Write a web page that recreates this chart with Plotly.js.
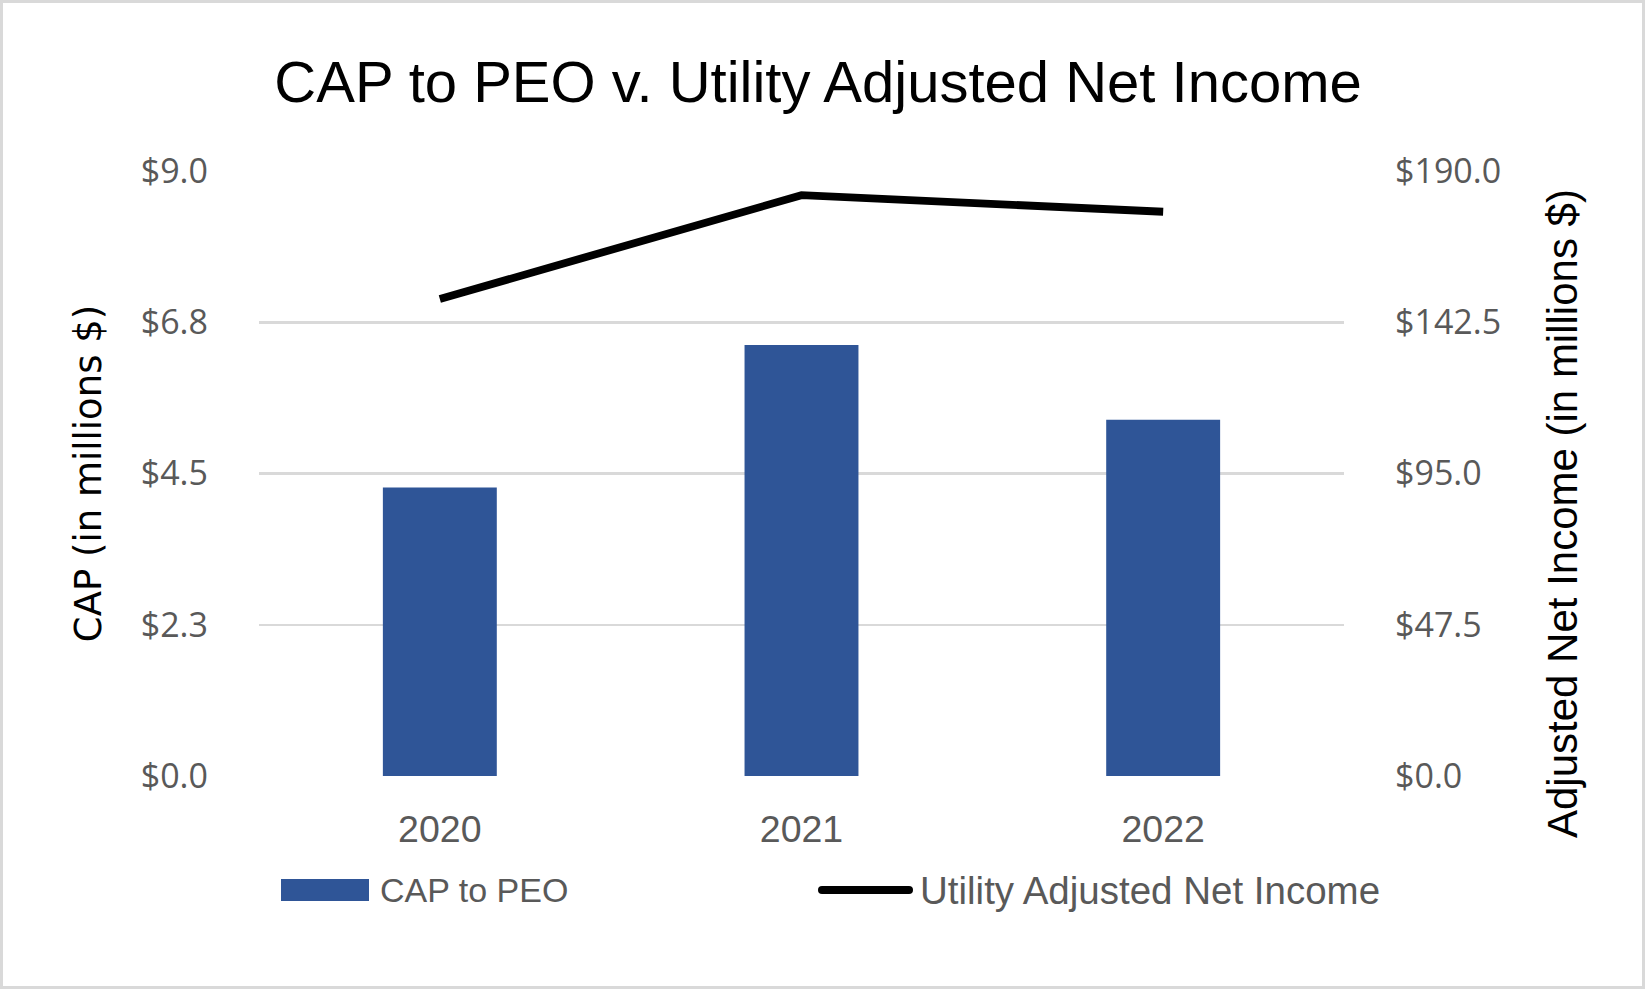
<!DOCTYPE html>
<html>
<head>
<meta charset="utf-8">
<script src="https://cdn.plot.ly/plotly-3.0.1.min.js"></script>
<style>
  html, body { margin: 0; padding: 0; background: #ffffff; overflow: hidden; }
  #wrap { position: relative; width: 1645px; height: 989px; }
  #chart { position: absolute; left: 0; top: 0; width: 1645px; height: 989px; }
  #frame { position: absolute; left: 0; top: 0; width: 1645px; height: 989px; box-sizing: border-box;
           border: 3px solid #d9d9d9; pointer-events: none; }
</style>
</head>
<body>
<div id="wrap">
  <div id="chart"></div>
  <div id="frame"></div>
</div>
<script>
// ---- data ----
const years = ['2020', '2021', '2022'];
const capToPeo = [4.29, 6.41, 5.30];            // CAP to PEO, $ millions
const adjNetIncome = [149.8, 182.4, 177.2];     // Utility Adjusted Net Income, $ millions

const leftTickVals = [0, 2.25, 4.5, 6.75, 9];
const leftTickText = ['$0.0', '$2.3', '$4.5', '$6.8', '$9.0'];
const rightTickVals = [0, 47.5, 95, 142.5, 190];
const rightTickText = ['$0.0', '$47.5', '$95.0', '$142.5', '$190.0'];

const seriesNames = ['CAP to PEO', 'Utility Adjusted Net Income'];
const titleText = 'CAP to PEO v. Utility Adjusted Net Income';
const leftAxisTitle = 'CAP (in millions $)';
const rightAxisTitle = 'Adjusted Net Income (in millions $)';

// ---- styles / geometry ----
const BLUE = '#2F5597';
const SANS = '"Liberation Sans", Arial, sans-serif';
const TICKFONT = { family: '"Open Sans", "Noto Sans", sans-serif', size: 34, color: '#595959' };
const PL = 259, PR = 1344, PT = 171, PB = 776;          // plot area in px
const PW = PR - PL, PH = PB - PT;
const px = v => (v - PL) / PW;                           // px -> paper x
const py = v => (PB - v) / PH;                           // px -> paper y

const traces = [
  {
    type: 'bar', name: seriesNames[0], x: years, y: capToPeo,
    marker: { color: BLUE }, width: 0.315, yaxis: 'y', showlegend: false
  },
  {
    type: 'scatter', mode: 'lines', name: seriesNames[1], x: years, y: adjNetIncome,
    line: { color: '#000000', width: 7.8 }, yaxis: 'y2', showlegend: false
  }
];

// legend built to match the reference (wide swatch + thick line)
const LEG_Y = 890;
const shapes = [
  { type: 'rect', xref: 'paper', yref: 'paper', x0: px(281), x1: px(369), y0: py(LEG_Y + 11), y1: py(LEG_Y - 11),
    fillcolor: BLUE, line: { width: 0 } },
  { type: 'line', xref: 'paper', yref: 'paper', x0: px(822), x1: px(909), y0: py(LEG_Y), y1: py(LEG_Y),
    line: { color: '#000000', width: 8 } },
  { type: 'circle', xref: 'paper', yref: 'paper', x0: px(818), x1: px(826), y0: py(LEG_Y + 4), y1: py(LEG_Y - 4),
    fillcolor: '#000000', line: { width: 0 } },
  { type: 'circle', xref: 'paper', yref: 'paper', x0: px(905), x1: px(913), y0: py(LEG_Y + 4), y1: py(LEG_Y - 4),
    fillcolor: '#000000', line: { width: 0 } }
];

const annotations = [
  { text: seriesNames[0], xref: 'paper', yref: 'paper', x: px(378), y: py(LEG_Y),
    xanchor: 'left', yanchor: 'middle', showarrow: false,
    font: { family: SANS, size: 34, color: '#595959' } },
  { text: seriesNames[1], xref: 'paper', yref: 'paper', x: px(918), y: py(LEG_Y),
    xanchor: 'left', yanchor: 'middle', showarrow: false,
    font: { family: SANS, size: 38.5, color: '#595959' } },
  { text: rightAxisTitle, xref: 'paper', yref: 'paper', x: px(1562), y: py(514),
    xanchor: 'center', yanchor: 'middle', textangle: -90, showarrow: false,
    font: { family: SANS, size: 42, color: '#000000' } }
];

const layout = {
  width: 1645, height: 989,
  paper_bgcolor: '#ffffff', plot_bgcolor: '#ffffff',
  margin: { l: PL, r: 1645 - PR, t: PT, b: 989 - PB, autoexpand: false },
  title: {
    text: titleText, x: 0.4973, xanchor: 'center', xref: 'container',
    y: 1 - 82 / 989, yref: 'container', yanchor: 'middle',
    font: { family: SANS, size: 58, color: '#000000' }
  },
  showlegend: false,
  xaxis: {
    type: 'category', range: [-0.5, 2.5], automargin: false,
    showgrid: false, zeroline: false, showline: false,
    ticks: '', ticklabelstandoff: 27,
    tickfont: { family: SANS, size: 37.5, color: '#595959' }
  },
  yaxis: {
    range: [0, 9], automargin: false,
    tickvals: leftTickVals, ticktext: leftTickText,
    showgrid: true, gridcolor: '#d9d9d9', gridwidth: 2.5,
    zeroline: false, showline: false, ticks: '', ticklabelstandoff: 50,
    tickfont: TICKFONT,
    title: { text: leftAxisTitle, standoff: 27,
             font: { family: '"DejaVu Sans", Verdana, sans-serif', size: 37, color: '#000000' } }
  },
  yaxis2: {
    range: [0, 190], overlaying: 'y', side: 'right', automargin: false,
    tickvals: rightTickVals, ticktext: rightTickText,
    showgrid: false, zeroline: false, showline: false, ticks: '', ticklabelstandoff: 50,
    tickfont: TICKFONT
  },
  shapes: shapes,
  annotations: annotations
};

Plotly.newPlot('chart', traces, layout, { displayModeBar: false, staticPlot: true });
</script>
</body>
</html>
